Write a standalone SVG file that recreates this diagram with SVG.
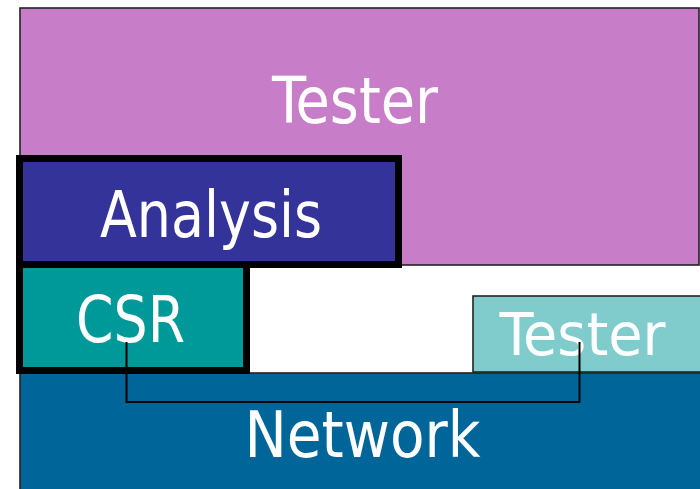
<svg xmlns="http://www.w3.org/2000/svg" width="700" height="489" viewBox="0 0 700 489">
<style>
.lbl{font-family:"DejaVu Sans Condensed","DejaVu Sans",sans-serif;fill:#ffffff;}
.thin{stroke:#222222;stroke-width:1.6;}
.thick{stroke:#000000;stroke-width:7;}
.wire{fill:none;stroke:#000000;stroke-width:2;}
</style>
<rect width="700" height="489" fill="#ffffff"/>
<g id="tester-top">
<rect class="thin" x="20" y="8" width="679" height="257" fill="#C87DC8"/>
<text class="lbl" x="272" y="123" font-size="64" textLength="166" lengthAdjust="spacingAndGlyphs">Tester</text>
</g>
<g id="network">
<rect class="thin" x="20" y="373" width="690" height="130" fill="#006699"/>
<text class="lbl" x="244.5" y="457" font-size="64" textLength="236" lengthAdjust="spacingAndGlyphs">Network</text>
</g>
<g id="tester-small">
<rect class="thin" x="473" y="296" width="237" height="76" fill="#80CCCC"/>
<text class="lbl" x="499.5" y="355" font-size="58" textLength="166" lengthAdjust="spacingAndGlyphs">Tester</text>
</g>
<g id="analysis">
<rect class="thick" x="19.5" y="158.5" width="379" height="106" fill="#333399"/>
<text class="lbl" x="100" y="237" font-size="64" textLength="222" lengthAdjust="spacingAndGlyphs">Analysis</text>
</g>
<g id="csr">
<rect class="thick" x="19.5" y="264.5" width="227" height="106" fill="#009999"/>
<text class="lbl" x="76" y="342" font-size="64" textLength="109" lengthAdjust="spacingAndGlyphs">CSR</text>
</g>
<g id="connectors">
<polyline class="wire" points="126.5,342 126.5,402 579.5,402 579.5,342"/>
</g>
</svg>
